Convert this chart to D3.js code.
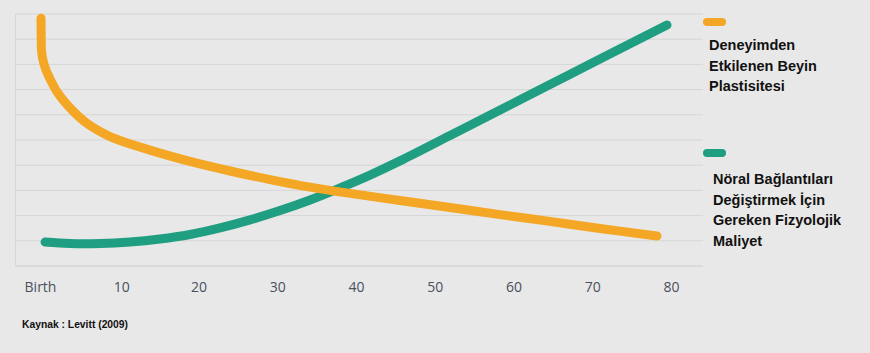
<!DOCTYPE html>
<html>
<head>
<meta charset="utf-8">
<script src="https://cdn.jsdelivr.net/npm/d3@7"></script>
<style>
  body { margin: 0; background: #e8e8e8; }
  svg { display: block; }
</style>
</head>
<body>
<div id="chart"></div>
<script>
var width = 870;
var height = 353;

// ages on the x axis
var tickAges = [0, 10, 20, 30, 40, 50, 60, 70, 80];
var tickLabels = ["Birth", "10", "20", "30", "40", "50", "60", "70", "80"];

// plasticity curve (age, value)
var plasticityAge = [0, 0.03, 0.06, 0.25, 0.63, 1.21, 1.9, 2.79, 3.94, 5.71, 8.34, 10.03, 13.84, 18.92, 24, 29.08, 34.16, 39.24, 45.59, 51.94, 58.29, 64.63, 70.98, 78.22];
var plasticityVal = [9.83, 8.97, 8.57, 8.17, 7.78, 7.38, 6.98, 6.59, 6.19, 5.69, 5.2, 4.98, 4.6, 4.15, 3.77, 3.43, 3.13, 2.88, 2.6, 2.32, 2.04, 1.77, 1.49, 1.19];

// physiological cost curve (age, value)
var costAge = [0.51, 3.68, 7.49, 11.3, 15.11, 18.92, 22.73, 26.54, 30.35, 34.16, 37.97, 41.78, 45.59, 51.94, 58.29, 64.63, 70.98, 79.49];
var costVal = [0.95, 0.89, 0.89, 0.95, 1.07, 1.25, 1.51, 1.83, 2.2, 2.62, 3.1, 3.61, 4.17, 5.18, 6.19, 7.2, 8.21, 9.56];

var gridValues = [0, 1, 2, 3, 4, 5, 6, 7, 8, 9, 10];

var legendLabels = [
  ["Deneyimden", "Etkilenen Beyin", "Plastisitesi"],
  ["Nöral Bağlantıları", "Değiştirmek İçin", "Gereken Fizyolojik", "Maliyet"]
];
var colors = ["#f4a724", "#1f9e81"];

var svg = d3.select("#chart").append("svg")
    .attr("width", width)
    .attr("height", height);

svg.append("rect")
    .attr("width", width).attr("height", height)
    .attr("fill", "#e8e8e8");

var x = d3.scaleLinear().domain([0, 80]).range([41, 671]);
var y = d3.scaleLinear().domain([0, 10]).range([266, 14]);

// grid
svg.append("g")
  .selectAll("line")
  .data(gridValues)
  .enter()
  .append("line")
    .attr("x1", 15).attr("x2", 703)
    .attr("y1", (d) => y(d)).attr("y2", (d) => y(d))
    .attr("stroke", "#d6d6d6")
    .attr("stroke-width", (d) => d == 0 ? 1.5 : 1);

svg.append("line")
    .attr("x1", 15.5).attr("x2", 15.5)
    .attr("y1", y(10)).attr("y2", y(0))
    .attr("stroke", "#d6d6d6");

// x axis labels
var xAxis = d3.axisBottom(x)
    .tickValues(tickAges)
    .tickSize(0)
    .tickPadding(0)
    .tickFormat((d, i) => tickLabels[i]);

var gx = svg.append("g")
    .attr("transform", "translate(0,282)")
    .call(xAxis);
gx.select(".domain").remove();
gx.selectAll("text")
    .attr("dy", "0.71em")
    .attr("font-family", "'Open Sans', sans-serif")
    .attr("font-size", "14px")
    .attr("fill", "#4a505e");
gx.selectAll(".tick").filter((d) => d == 0)
    .select("text").attr("dx", "-1px");
gx.selectAll(".tick").filter((d) => d == 10)
    .select("text").attr("dx", "1.5px");

// lines
var line = d3.line()
    .x((d) => x(d[0]))
    .y((d) => y(d[1]))
    .curve(d3.curveCatmullRom.alpha(0.5));

var plasticity = plasticityAge.map((a, i) => [a, plasticityVal[i]]);
var cost = costAge.map((a, i) => [a, costVal[i]]);

svg.append("path")
    .datum(cost)
    .attr("d", line)
    .attr("fill", "none")
    .attr("stroke", colors[1])
    .attr("stroke-width", 9)
    .attr("stroke-linecap", "round");

svg.append("path")
    .datum(plasticity)
    .attr("d", line)
    .attr("fill", "none")
    .attr("stroke", colors[0])
    .attr("stroke-width", 9)
    .attr("stroke-linecap", "round");

// legend
var legendTop = [22, 153];
var legendTextX = [709, 713];
var legendTextY = [45, 179];

legendLabels.forEach((lines, k) => {
  svg.append("rect")
      .attr("x", 703).attr("y", legendTop[k] - 4)
      .attr("width", 23).attr("height", 8)
      .attr("rx", 4)
      .attr("fill", colors[k]);
  svg.append("g").selectAll("text")
    .data(lines)
    .enter()
    .append("text")
      .attr("x", legendTextX[k])
      .attr("y", (d, i) => legendTextY[k] + i * 20.5)
      .attr("dy", "0.35em")
      .attr("font-family", "'Liberation Sans', Arial, sans-serif")
      .attr("font-weight", "bold")
      .attr("font-size", "14.5px")
      .attr("fill", "#111")
      .text((d) => d);
});

svg.append("text")
    .attr("x", 22)
    .attr("y", 324)
    .attr("dy", "0.35em")
    .attr("font-family", "'Liberation Sans Narrow', 'Liberation Sans', Arial, sans-serif")
    .attr("font-weight", "bold")
    .attr("font-size", "11.5px")
    .attr("textLength", 106)
    .attr("lengthAdjust", "spacingAndGlyphs")
    .attr("fill", "#111")
    .text("Kaynak : Levitt (2009)");
</script>
</body>
</html>
